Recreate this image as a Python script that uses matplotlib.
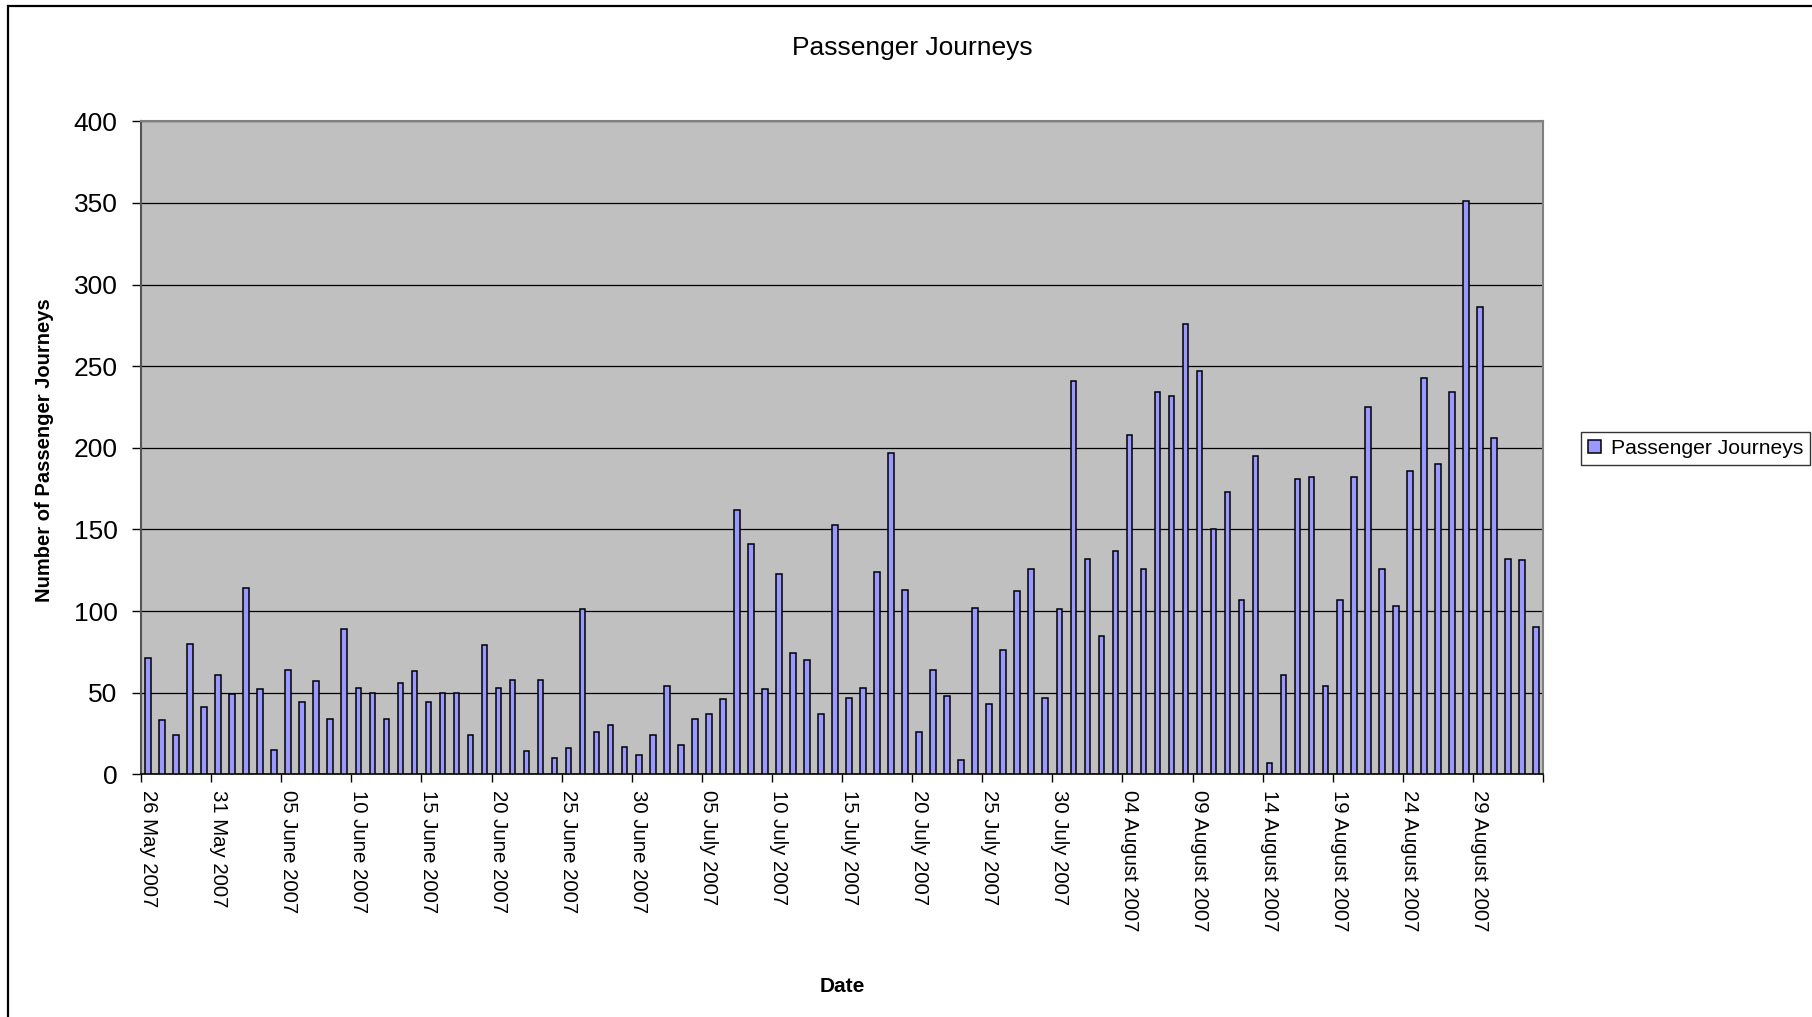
import matplotlib
matplotlib.use("Agg")
import matplotlib.pyplot as plt
from matplotlib.patches import Rectangle
import numpy as np
import pandas as pd

plt.rcParams['font.family'] = ['Liberation Sans', 'DejaVu Sans']

# ---- data ----
start_date = "2007-05-26"
n_days = 100
dates = pd.date_range(start_date, periods=n_days, freq="D")
journeys = [
    71, 33, 24, 80, 41, 61, 49, 114, 52, 15,
    64, 44, 57, 34, 89, 53, 50, 34, 56, 63,
    44, 50, 50, 24, 79, 53, 58, 14, 58, 10,
    16, 101, 26, 30, 17, 12, 24, 54, 18, 34,
    37, 46, 162, 141, 52, 123, 74, 70, 37, 153,
    47, 53, 124, 197, 113, 26, 64, 48, 9, 102,
    43, 76, 112, 126, 47, 101, 241, 132, 85, 137,
    208, 126, 234, 232, 276, 247, 150, 173, 107, 195,
    7, 61, 181, 182, 54, 107, 182, 225, 126, 103,
    186, 243, 190, 234, 351, 286, 206, 132, 131, 90,
]
series_name = "Passenger Journeys"
y_ticks = [0, 50, 100, 150, 200, 250, 300, 350, 400]
label_every = 5

W, H = 1812, 1017
fig = plt.figure(figsize=(W / 100, H / 100), dpi=100)
fig.patch.set_facecolor("white")

left, right, top, bottom = 141, 1543, 121.3, 774.3
ax = fig.add_axes([left / W, 1 - bottom / H, (right - left) / W, (bottom - top) / H])
ax.set_facecolor("#C0C0C0")

x = np.arange(len(journeys)) + 0.5
ax.bar(x, journeys, width=0.4, color="#9999FF", edgecolor="black",
       linewidth=1.1, zorder=3, label=series_name)

ax.set_xlim(0, len(journeys))
ax.set_ylim(0, 400)
ax.set_yticks(y_ticks)
ax.set_yticklabels([str(v) for v in y_ticks], fontsize=19)
ax.yaxis.grid(True, color="black", linewidth=0.9, zorder=1)
ax.set_axisbelow(True)

# x axis: ticks at category boundaries, labels at category centers
ax.set_xticks(np.arange(0, len(journeys) + 1, label_every))
ax.set_xticklabels([])
lab_idx = np.arange(0, len(journeys), label_every)
ax.set_xticks(lab_idx + 0.5, minor=True)
ax.set_xticklabels([dates[i].strftime("%d %B %Y") for i in lab_idx],
                   minor=True, rotation=270, fontsize=14.7, va="top", ha="center")
ax.tick_params(axis="x", which="major", length=6, width=1, direction="out", color="black")
ax.tick_params(axis="x", which="minor", length=0, pad=11)
ax.tick_params(axis="y", which="major", length=6.5, width=1, pad=10.5, direction="out", color="black")

for s in ["top", "right"]:
    ax.spines[s].set_color("#808080")
    ax.spines[s].set_linewidth(1.5)
ax.spines["left"].set_color("#555555")
ax.spines["left"].set_linewidth(1.5)
ax.spines["bottom"].set_color("black")
ax.spines["bottom"].set_linewidth(1.2)

# texts
fig.text(912 / W, 1 - 48.5 / H, "Passenger Journeys", fontsize=19, ha="center", va="center")
fig.text(45 / W, 1 - 450 / H, "Number of Passenger Journeys", fontsize=14.5,
         fontweight="bold", rotation=90, ha="center", va="center")
fig.text(842.5 / W, 1 - 986 / H, "Date", fontsize=15, fontweight="bold",
         ha="center", va="center")

leg = fig.legend(loc="center left", bbox_to_anchor=(1581 / W, 1 - 448.5 / H),
                 bbox_transform=fig.transFigure, fontsize=15.2, frameon=True,
                 fancybox=False, shadow=False, handlelength=0.6, handleheight=0.6,
                 handletextpad=0.45, borderpad=0.35, borderaxespad=0)
leg.get_frame().set_edgecolor("black")
leg.get_frame().set_linewidth(1.0)

# outer chart border
fig.patches.append(Rectangle((8 / W, -0.1), 1.2, (H - 6) / H + 0.1,
                             transform=fig.transFigure, fill=False,
                             edgecolor="black", linewidth=1.6))

fig.savefig("out.png", dpi=100)
